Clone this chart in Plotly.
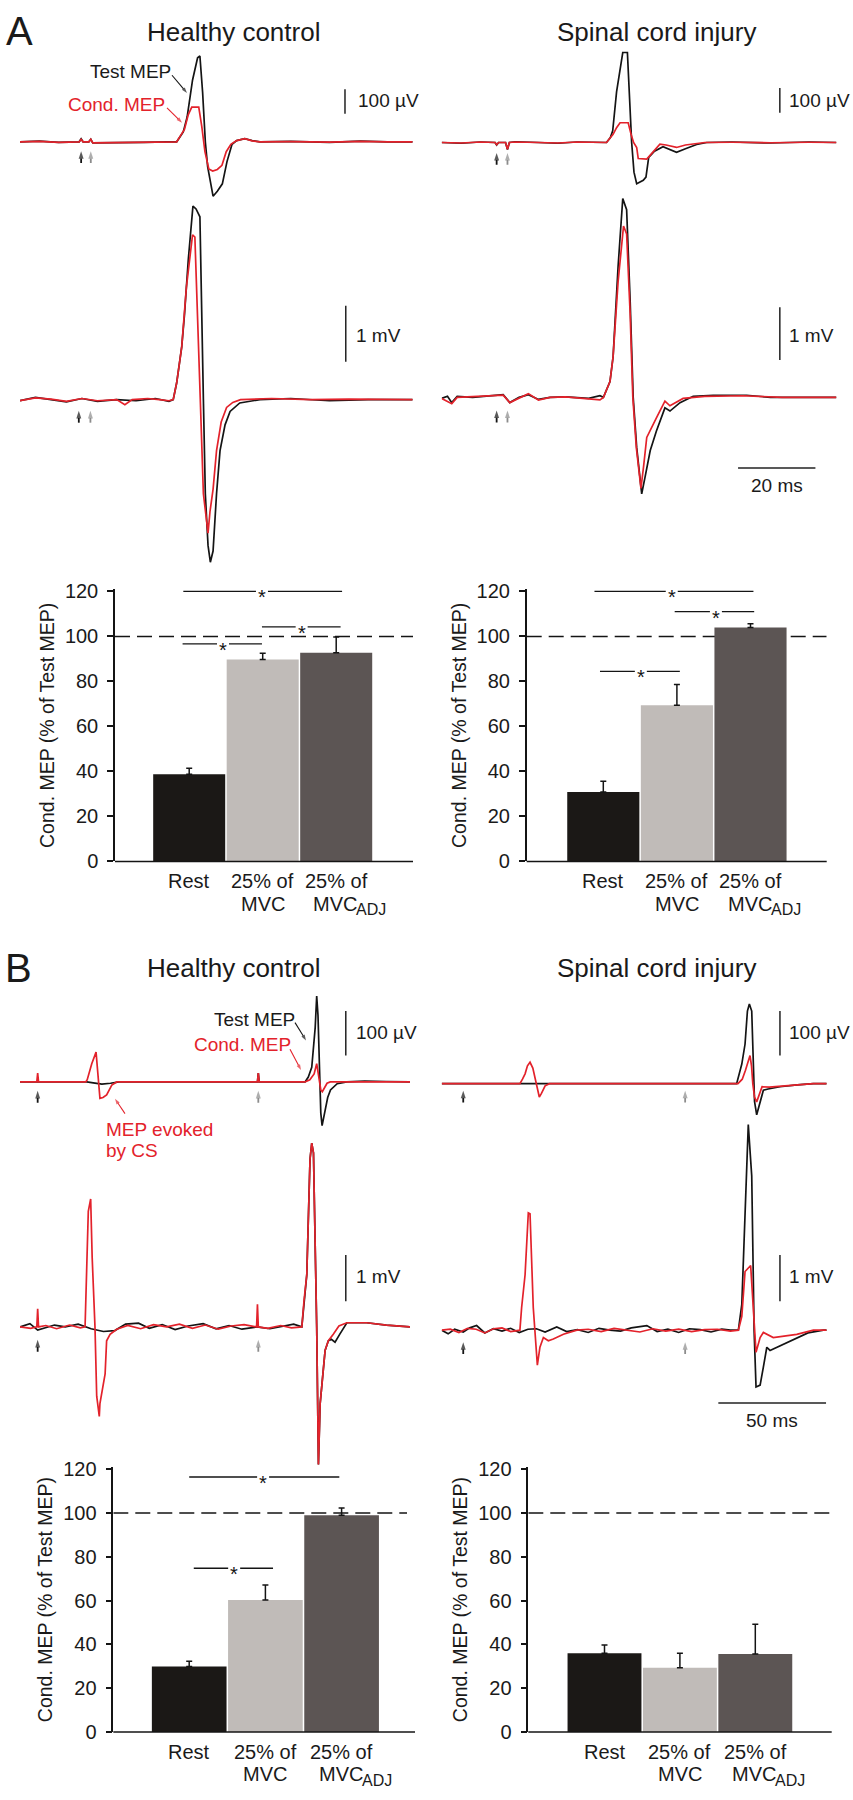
import plotly.graph_objects as go

W, H = 853, 1800
FONT = "Liberation Sans, Arial, sans-serif"
BLACK = "#141414"
RED = "#e3222b"
GRAY = "#8c8c8c"
TXT = "#1a1a1a"

# ------------------------------------------------------------------ data
# Panel A, healthy control, top traces (µV), time in ms
a_hc_top_t_test = [0, 5, 10, 15.3, 15.8, 16.3, 17.8, 18.3, 18.8, 25, 32, 38, 40.5, 42.2, 43.2, 44.6, 45.9, 46.5, 47.2, 47.9, 48.5, 49.9, 51.0, 52.3, 53.5, 54.8, 56.0, 58.1, 60.0, 62.0, 70, 80, 88, 95, 101.5]
a_hc_top_v_test = [0, 3, -2, 0, 12, 0, 0, 10, -4, -4, -2, 0, 0, 40, 100, 250, 340, 347, 200, 0, -100, -220, -200, -170, -80, -10, 5, 13, 5, 0, 2, -2, 3, 0, 0]
a_hc_top_t_cond = [0, 5, 10, 15.3, 15.8, 16.3, 17.8, 18.3, 18.8, 25, 32, 38, 40.5, 41.5, 42.5, 43.5, 44.4, 46.2, 47.0, 47.8, 48.8, 49.8, 51.0, 52.2, 53.3, 54.5, 56.0, 58.1, 60.0, 62.0, 70, 80, 88, 95, 101.5]
a_hc_top_v_cond = [0, 2, -2, 0, 10, 0, 0, 10, -4, -3, -2, 0, 0, 25, 50, 110, 140, 140, 60, -40, -110, -118, -112, -95, -40, -10, 5, 13, 4, 0, 1, -1, 2, 0, 0]

# Panel A, healthy control, bottom traces (mV)
a_hc_bot_t_test = [0, 4, 8, 12, 16, 20, 25, 30, 35, 38.5, 39.6, 40.5, 41.8, 42.5, 43.5, 44.7, 45.5, 46.5, 47.4, 47.9, 48.6, 49.2, 49.9, 50.8, 51.7, 53.0, 54.3, 56.8, 62, 70, 80, 90, 101.5]
a_hc_bot_v_test = [-0.02, 0.04, 0.0, -0.04, 0.02, -0.03, 0.0, -0.02, 0.02, -0.03, 0.0, 0.3, 0.94, 1.5, 2.5, 3.45, 3.4, 3.26, 0.0, -1.68, -2.6, -2.9, -2.7, -1.68, -0.91, -0.45, -0.21, -0.06, 0.0, 0.02, -0.02, 0.0, 0.0]
a_hc_bot_t_cond = [0, 4, 8, 12, 16, 20, 25, 27.1, 29, 33, 36, 38.5, 39.6, 40.5, 41.8, 43.0, 44.6, 45.2, 46.6, 47.4, 48.6, 49.1, 49.9, 50.8, 52.0, 53.4, 55.0, 57, 65, 75, 85, 95, 101.5]
a_hc_bot_v_cond = [-0.02, 0.03, 0.01, -0.03, 0.02, -0.02, 0.0, -0.09, 0.0, 0.02, 0.0, -0.02, 0.0, 0.3, 0.94, 2.0, 2.94, 2.9, 0.0, -1.68, -2.38, -2.0, -1.6, -0.91, -0.4, -0.14, -0.05, 0.0, 0.02, 0.0, 0.01, 0.0, 0.0]

# Panel A, spinal cord injury, top traces (µV)
a_sci_top_t_test = [0, 5, 10, 13.8, 14.2, 14.7, 16.5, 17.0, 17.5, 19, 25, 30, 35, 40, 42.6, 43.6, 44.2, 45.2, 46.8, 48.0, 48.7, 49.1, 49.7, 50.4, 52.1, 52.8, 53.5, 55.0, 57.2, 59.0, 60.7, 63.0, 65.9, 68.5, 75, 85, 95, 102]
a_sci_top_v_test = [0, -3, 2, 0, -10, 0, 0, -28, 0, 3, 0, -3, 2, 0, 0, 20, 47, 205, 364, 364, 100, 0, -120, -167, -153, -140, -60, -35, -17, -28, -40, -25, -8, 0, 2, -2, 2, 0]
a_sci_top_t_cond = [0, 5, 10, 13.8, 14.2, 14.7, 16.5, 17.0, 17.5, 19, 25, 30, 35, 40, 42.6, 44.3, 45.2, 46.1, 48.2, 49.0, 49.6, 50.4, 50.8, 53.0, 54.5, 56.4, 58.0, 60.7, 63.0, 65.9, 68, 75, 85, 95, 102]
a_sci_top_v_cond = [0, -2, 2, 0, -9, 0, 0, -27, 0, 2, 0, -2, 2, 0, 0, 33, 60, 80, 80, 30, 0, -20, -65, -67, -40, -7, -10, -20, -10, -3, 0, 1, -1, 1, 0]

# Panel A, spinal cord injury, bottom traces (mV)
a_sci_bot_t_test = [0, 1.5, 2.6, 4.0, 8, 12, 15.9, 17.6, 20, 22.4, 25, 28, 32, 38, 40.9, 41.8, 43.5, 44.3, 45.6, 46.8, 47.8, 48.7, 49.5, 50.4, 51.7, 52.6, 53.9, 55.5, 57.7, 59.0, 61.6, 65, 70.2, 78.8, 85, 95, 102]
a_sci_bot_v_test = [-0.02, 0.02, -0.1, 0.02, 0.0, 0.02, 0.05, -0.1, 0.0, 0.05, -0.04, 0.0, 0.01, -0.02, 0.03, 0.0, 0.3, 0.77, 2.49, 3.77, 3.56, 1.86, 0.0, -0.95, -1.83, -1.5, -1.01, -0.64, -0.2, -0.26, -0.1, 0.02, 0.04, 0.04, 0.0, 0.0, 0.0]
a_sci_bot_t_cond = [0, 1.5, 2.6, 4.0, 8, 12, 15.9, 17.6, 20, 22.4, 25, 28, 32, 38, 40.9, 41.8, 43.5, 44.3, 45.6, 47.0, 47.8, 48.7, 49.4, 50.3, 51.5, 52.2, 53.0, 55.5, 57.7, 59.0, 62.4, 68, 78, 88, 95, 102]
a_sci_bot_v_cond = [-0.02, -0.08, -0.12, 0.0, 0.01, 0.02, 0.04, -0.1, -0.02, 0.07, -0.05, 0.0, 0.01, -0.03, -0.05, 0.0, 0.3, 0.77, 2.2, 3.25, 3.1, 1.6, 0.0, -0.95, -1.73, -1.3, -0.76, -0.39, -0.07, -0.16, -0.02, 0.02, 0.03, 0.0, 0.0, 0.0]

# Panel B, healthy control, top traces (µV)
b_hc_top_t_test = [0, 20, 31, 34, 38, 42, 46, 60, 80, 100, 110.2, 110.6, 111.0, 120, 132.3, 133.8, 135.4, 137.0, 137.7, 138.3, 139.0, 139.6, 140.2, 141.6, 142.8, 144.1, 147.2, 151.7, 160, 170, 181]
b_hc_top_v_test = [0, 0, 0, -2, -5, -3, 0, 0, 0, 0, 0, 20, 0, 0, 0, 11, 33, 122, 193, 150, 0, -70, -98, -63, -35, -18, -4, 0, 2, 1, 0]
b_hc_top_t_cond = [0, 7.8, 8.2, 8.6, 20, 30.5, 31.2, 33.3, 35.3, 36.4, 37.1, 38.5, 40.2, 42.6, 44.9, 60, 80, 100, 110.2, 110.6, 111.0, 120, 132.3, 134.5, 136.5, 137.7, 138.3, 139.0, 139.6, 140.3, 141.3, 142.5, 144.0, 150, 160, 170, 181]
b_hc_top_v_cond = [0, 0, 20, 0, 0, 0, 5, 41, 67, 0, -37, -35, -29, -7, 0, 0, 0, 0, 0, 20, 0, 0, 0, 5, 18, 41, 25, 0, -18, -22, -12, -3, 0, 0, 0, 0, 0]

# Panel B, healthy control, bottom traces (mV)
b_hc_bot_t_test = [0, 4.6, 8.2, 12, 16, 21, 27, 33, 38.7, 44, 49, 55, 60, 66, 72, 78, 85, 91, 97, 103, 110, 116, 122, 127, 130.8, 131.8, 133.1, 134.6, 135.4, 136.2, 137.7, 138.5, 139.3, 141.6, 143.1, 144.5, 146.2, 148.5, 151.7, 160.9, 170, 181]
b_hc_bot_v_test = [0.0, 0.07, -0.07, -0.01, 0.04, 0.0, 0.06, -0.04, -0.1, -0.08, 0.06, 0.08, -0.03, 0.05, -0.06, 0.02, 0.07, -0.04, 0.03, -0.05, 0.0, -0.04, 0.02, 0.06, 0.0, 0.56, 1.13, 3.63, 3.98, 3.77, 0.0, -2.98, -1.66, -0.51, -0.3, -0.27, -0.33, -0.15, 0.09, 0.09, 0.04, 0.0]
b_hc_bot_t_cond = [0, 5, 7.8, 8.2, 8.6, 12, 17, 23, 28, 30.2, 31.7, 32.8, 33.5, 34.8, 35.6, 36.8, 37.1, 38.3, 39.5, 40.2, 41.8, 44.9, 50, 56, 62, 68, 74, 80, 86, 92, 98, 104, 109.8, 110.2, 110.6, 115, 121, 126, 130.8, 131.8, 133.1, 134.6, 135.4, 136.2, 137.7, 138.5, 139.3, 141.6, 143.1, 145.4, 148, 151.7, 160.9, 170, 181]
b_hc_bot_v_cond = [0.0, -0.03, 0.0, 0.39, 0.0, 0.03, -0.04, 0.04, -0.02, 0.0, 2.5, 2.77, 1.5, 0.0, -1.5, -1.94, -1.66, -1.3, -1.02, -0.3, -0.16, -0.05, 0.03, -0.04, 0.05, 0.0, 0.06, -0.03, 0.04, -0.05, 0.02, 0.05, 0.0, 0.49, 0.0, -0.03, 0.03, -0.02, 0.0, 0.56, 1.13, 3.63, 3.98, 3.77, 0.0, -2.98, -1.66, -0.51, -0.3, -0.16, 0.02, 0.09, 0.09, 0.04, 0.0]

# Panel B, spinal cord injury, top traces (µV)
b_sci_top_t_test = [0, 20, 40, 60, 80, 100, 120, 136.9, 139.3, 140.8, 141.9, 142.8, 143.9, 144.7, 145.2, 146.2, 147.3, 149.3, 151.5, 157, 165, 172.5, 178.7]
b_sci_top_v_test = [0, 0, 0, 0, 0, 0, 0, 0, 44, 89, 163, 179, 163, 15, -40, -70, -50, -15, -12, -7, -3, 0, 0]
b_sci_top_t_cond = [0, 20, 36.3, 37.5, 38.7, 39.8, 41.0, 42.3, 43.5, 44.1, 45.3, 46.3, 48.0, 50, 80, 110, 137.5, 139.5, 141.0, 143.1, 143.8, 144.4, 145.2, 146.2, 147.5, 148.7, 152, 157, 165, 172.5, 178.7]
b_sci_top_v_cond = [0, 0, 0, 10, 22, 40, 48, 35, 10, 0, -30, -22, -5, 0, 0, 0, 0, 10, 30, 63, 40, 0, -30, -41, -25, -7, -8, -6, -2, 0, 0]

# Panel B, spinal cord injury, bottom traces (mV)
b_sci_bot_t_test = [0, 3, 6, 10, 13, 16.2, 20, 24, 28, 32, 36, 40, 44, 48, 53.4, 58, 63, 68, 73, 78, 83, 88, 95.2, 100, 105, 110, 115, 120, 125, 130, 134, 137.7, 139.3, 140.8, 142.3, 143.9, 145.0, 145.9, 147.8, 149.3, 150.9, 152.4, 157, 164.8, 170, 177.2, 178.7]
b_sci_bot_v_test = [0.0, -0.08, 0.02, -0.04, 0.05, 0.1, -0.06, 0.03, -0.02, 0.04, -0.05, 0.02, 0.03, -0.04, 0.07, -0.03, 0.01, -0.05, 0.04, 0.0, -0.02, 0.05, 0.1, -0.03, 0.02, -0.05, 0.03, 0.01, -0.04, 0.02, 0.0, 0.0, 0.56, 2.63, 4.45, 3.34, 0.0, -1.23, -1.19, -0.8, -0.37, -0.44, -0.34, -0.16, -0.06, 0.0, 0.0]
b_sci_bot_t_cond = [0, 4, 8, 12, 16, 20, 24, 28, 32, 36.3, 37.1, 38.7, 40.2, 41.0, 42.5, 43.3, 44.4, 45.6, 47.2, 49.5, 51.8, 56.5, 62.7, 68, 74, 80, 86, 92, 98, 104, 110, 116, 122, 128, 134, 137.7, 139.3, 140.8, 143.4, 144.6, 145.0, 145.9, 147.8, 149.3, 153.9, 164.8, 172.5, 178.7]
b_sci_bot_v_cond = [0.0, 0.02, -0.05, 0.04, 0.02, -0.06, 0.03, 0.05, -0.03, 0.0, 0.49, 1.2, 2.54, 2.52, 0.49, 0.0, -0.76, -0.37, -0.16, -0.23, -0.19, -0.09, 0.0, 0.02, -0.03, 0.04, 0.0, -0.04, 0.03, -0.02, 0.02, -0.03, 0.01, 0.02, -0.02, 0.0, 0.3, 1.27, 1.4, 0.49, 0.0, -0.48, -0.16, -0.05, -0.16, -0.09, 0.0, 0.0]

# Stimulus arrows (ms): conditioning (black) and test (gray)
a_hc_arrow_t = [15.8, 18.3]
a_sci_arrow_t = [14.2, 17.0]
b_hc_arrow_t = [8.2, 110.6]
b_sci_arrow_t = [10.0, 113.0]

# Bar charts: Cond. MEP (% of Test MEP), mean and SEM
bar_cat_line1 = ["Rest", "25% of", "25% of"]
bar_cat_line2 = ["", "MVC", "MVC"]
bar_cat_sub = ["", "", "ADJ"]
bar_colors = ["#1b1816", "#c0bbb8", "#5c5554"]
y_ticks = [0, 20, 40, 60, 80, 100, 120]
reference_level = 100

a_hc_mean = [38.7, 89.8, 92.8]
a_hc_sem = [2.7, 2.7, 7.0]
a_sci_mean = [30.9, 69.4, 104.0]
a_sci_sem = [4.7, 9.2, 1.6]
b_hc_mean = [29.9, 60.3, 99.0]
b_hc_sem = [2.4, 6.8, 3.3]
b_sci_mean = [35.9, 29.3, 35.6]
b_sci_sem = [3.8, 6.6, 13.6]

# significance brackets: start, end, height, star position (category units)
a_hc_sig_x0 = [-0.08, 0.99, -0.09]
a_hc_sig_x1 = [2.08, 2.06, 0.99]
a_hc_sig_y = [120, 104.3, 96.7]
a_hc_sig_star = [0.99, 1.53, 0.46]
a_sci_sig_x0 = [-0.12, 0.97, -0.045]
a_sci_sig_x1 = [2.04, 2.05, 1.04]
a_sci_sig_y = [120, 111, 84.5]
a_sci_sig_star = [0.93, 1.53, 0.51]
b_hc_sig_x0 = [0.0, 0.06]
b_hc_sig_x1 = [1.97, 1.1]
b_hc_sig_y = [116.5, 74.8]
b_hc_sig_star = [0.97, 0.59]

# ------------------------------------------------------------------ figure
fig = go.Figure()
annotations = []
shapes = []
panel_scale = {}


def ax_names(n):
    return ("xaxis" if n == 1 else f"xaxis{n}", "yaxis" if n == 1 else f"yaxis{n}",
            "x" if n == 1 else f"x{n}", "y" if n == 1 else f"y{n}")


def trace_panel(n, xl, xr, tmax, ytop, ybot, base, scale):
    xa, ya, xr_, yr_ = ax_names(n)
    panel_scale[n] = scale
    fig.update_layout(**{
        xa: dict(domain=[xl / W, xr / W], range=[0, tmax], visible=False, anchor=yr_, fixedrange=True),
        ya: dict(domain=[1 - ybot / H, 1 - ytop / H],
                 range=[(base - ybot) / scale, (base - ytop) / scale],
                 visible=False, anchor=xr_, fixedrange=True),
    })


def add_traces(n, t_test, v_test, t_cond, v_cond):
    _, _, xr_, yr_ = ax_names(n)
    fig.add_trace(go.Scatter(x=t_test, y=v_test, mode="lines", xaxis=xr_, yaxis=yr_,
                             line=dict(color=BLACK, width=1.7), hoverinfo="skip"))
    fig.add_trace(go.Scatter(x=t_cond, y=v_cond, mode="lines", xaxis=xr_, yaxis=yr_,
                             line=dict(color=RED, width=1.7), hoverinfo="skip"))


def arrow_trace(xs, ys, color, xref, yref, width=1.5, size=7):
    fig.add_trace(go.Scatter(x=xs, y=ys, mode="lines+markers", xaxis=xref, yaxis=yref,
                             line=dict(color=color, width=width), cliponaxis=False,
                             marker=dict(symbol="arrow", size=[0, size], angleref="previous",
                                         color=color, line=dict(width=0)),
                             hoverinfo="skip"))


def stim_arrows(n, times, head_y):
    _, _, xr_, yr_ = ax_names(n)
    tail_y = head_y - 12 / panel_scale[n]
    for t, c in zip(times, [BLACK, GRAY]):
        arrow_trace([t, t], [tail_y, head_y], c, xr_, yr_, width=1.8, size=8)


def vbar(n, t, y0, y1):
    _, _, xr_, yr_ = ax_names(n)
    shapes.append(dict(type="line", xref=xr_, yref=yr_, x0=t, x1=t, y0=y0, y1=y1,
                       line=dict(color="#222222", width=1.5)))


def hbar(n, t0, t1, y):
    _, _, xr_, yr_ = ax_names(n)
    shapes.append(dict(type="line", xref=xr_, yref=yr_, x0=t0, x1=t1, y0=y, y1=y,
                       line=dict(color="#222222", width=1.5)))


def paper_text(xp, yp, text, size, xanchor="center", color=TXT):
    annotations.append(dict(x=xp / W, y=1 - yp / H, xref="paper", yref="paper", text=text,
                            showarrow=False, xanchor=xanchor, yanchor="middle",
                            font=dict(size=size, color=color, family=FONT)))


# overlay axis in pixel units for pointer arrows
fig.update_layout(xaxis13=dict(domain=[0, 1], range=[0, W], visible=False, anchor="y13", fixedrange=True),
                  yaxis13=dict(domain=[0, 1], range=[H, 0], visible=False, anchor="x13", fixedrange=True))


def pointer(x_tail, y_tail, x_head, y_head, color):
    arrow_trace([x_tail, x_head], [y_tail, y_head], color, "x13", "y13", width=1.1, size=6)


# ---- Panel A traces
trace_panel(1, 20, 412.7, 101.5, 35, 200, 134.3, 0.25)
add_traces(1, a_hc_top_t_test, a_hc_top_v_test, a_hc_top_t_cond, a_hc_top_v_cond)
stim_arrows(1, a_hc_arrow_t, -38)
vbar(1, 84.0, 113, 213)

trace_panel(2, 20, 412.7, 101.5, 185, 575, 395, 56.7)
add_traces(2, a_hc_bot_t_test, a_hc_bot_v_test, a_hc_bot_t_cond, a_hc_bot_v_cond)
stim_arrows(2, [15.2, 18.2], -0.2)
vbar(2, 84.2, 0.675, 1.675)

trace_panel(3, 441.7, 836.7, 102.1, 30, 200, 135, 0.25)
add_traces(3, a_sci_top_t_test, a_sci_top_v_test, a_sci_top_t_cond, a_sci_top_v_cond)
stim_arrows(3, a_sci_arrow_t, -42)
vbar(3, 87.4, 120, 220)

trace_panel(4, 441.7, 836.7, 102.1, 180, 500, 392.7, 53.3)
add_traces(4, a_sci_bot_t_test, a_sci_bot_v_test, a_sci_bot_t_cond, a_sci_bot_v_cond)
stim_arrows(4, a_sci_arrow_t, -0.25)
vbar(4, 87.4, 0.71, 1.71)
hbar(4, 76.6, 96.6, -1.34)

# ---- Panel B traces
trace_panel(5, 20, 410, 181, 985, 1140, 1085, 0.45)
add_traces(5, b_hc_top_t_test, b_hc_top_v_test, b_hc_top_t_cond, b_hc_top_v_cond)
stim_arrows(5, b_hc_arrow_t, -20)
vbar(5, 151.2, 59.3, 159.3)

trace_panel(6, 20, 410, 181, 1135, 1480, 1332.7, 46.7)
add_traces(6, b_hc_bot_t_test, b_hc_bot_v_test, b_hc_bot_t_cond, b_hc_bot_v_cond)
stim_arrows(6, b_hc_arrow_t, -0.28)
vbar(6, 151.2, 0.557, 1.557)

trace_panel(7, 441.7, 826.7, 178.7, 990, 1130, 1086.7, 0.45)
add_traces(7, b_sci_top_t_test, b_sci_top_v_test, b_sci_top_t_cond, b_sci_top_v_cond)
stim_arrows(7, b_sci_arrow_t, -16)
vbar(7, 157.0, 63, 163)

trace_panel(8, 441.7, 826.7, 178.7, 1115, 1440, 1336, 46.7)
add_traces(8, b_sci_bot_t_test, b_sci_bot_v_test, b_sci_bot_t_cond, b_sci_bot_v_cond)
stim_arrows(8, b_sci_arrow_t, -0.26)
vbar(8, 157.0, 0.627, 1.627)
hbar(8, 128.4, 178.4, -1.58)

# trace labels (pixel positions)
paper_text(356, 93, "100 µV", 19, "left")
paper_text(354, 330, "1 mV", 19, "left")
paper_text(787, 93, "100 µV", 19, "left")
paper_text(787, 330, "1 mV", 19, "left")
paper_text(777, 482, "20 ms", 19)
paper_text(130, 63, "Test MEP", 19)
paper_text(117, 97, "Cond. MEP", 19, color=RED)
pointer(172, 67, 187, 85, BLACK)
pointer(167, 100, 182, 115, RED)

paper_text(354, 1035, "100 µV", 19, "left")
paper_text(354, 1282, "1 mV", 19, "left")
paper_text(787, 1035, "100 µV", 19, "left")
paper_text(787, 1282, "1 mV", 19, "left")
paper_text(772, 1427, "50 ms", 19)
paper_text(254, 1022, "Test MEP", 19)
paper_text(242, 1047, "Cond. MEP", 19, color=RED)
paper_text(104, 1133, "MEP evoked", 19, "left", color=RED)
paper_text(104, 1154, "by CS", 19, "left", color=RED)
pointer(295, 1025, 306, 1043, BLACK)
pointer(290, 1052, 301, 1073, RED)
pointer(125, 1117, 115, 1102, RED)


# ---- bar charts
def bar_panel(n, yaxis_px, xend_px, dash_end_px, c0_px, unit_px, zero_px, ppu,
              mean, sem, sig=None):
    xa, ya, xr_, yr_ = ax_names(n)
    top = 121
    r0 = (yaxis_px - c0_px) / unit_px
    r1 = (xend_px - c0_px) / unit_px
    fig.update_layout(**{
        xa: dict(domain=[yaxis_px / W, xend_px / W], range=[r0, r1], anchor=yr_,
                 visible=False, fixedrange=True),
        ya: dict(domain=[1 - zero_px / H, 1 - (zero_px - top * ppu) / H], range=[0, top], anchor=xr_,
                 showline=True, linecolor=BLACK, linewidth=1.5, ticks="outside", ticklen=6, tickwidth=1.5,
                 tickcolor=BLACK, tickvals=y_ticks, showgrid=False, zeroline=False, ticklabelstandoff=5,
                 tickfont=dict(size=20, color=TXT, family=FONT), fixedrange=True,
                 title=dict(text="Cond. MEP (% of Test MEP)", standoff=5,
                            font=dict(size=19.5, color=TXT, family=FONT))),
    })
    # x baseline (axis line)
    shapes.append(dict(type="line", xref="paper", yref="paper", x0=yaxis_px / W, x1=xend_px / W,
                       y0=1 - zero_px / H, y1=1 - zero_px / H, line=dict(color=BLACK, width=1.5)))
    fig.add_trace(go.Bar(x=[0, 1, 2], y=mean, width=0.98, marker=dict(color=bar_colors, line=dict(width=0)),
                         error_y=dict(type="data", array=sem, arrayminus=[0, 0, 0], symmetric=False,
                                      color=BLACK, thickness=1.5, width=3),
                         xaxis=xr_, yaxis=yr_, hoverinfo="skip"))
    shapes.append(dict(type="line", xref=xr_, yref=yr_, x0=r0, x1=(dash_end_px - c0_px) / unit_px,
                       y0=reference_level, y1=reference_level, layer="below",
                       line=dict(color=BLACK, width=1.5, dash="15px,7px")))
    if sig:
        gap = 6.0 / unit_px
        for x0, x1, y, s in zip(*sig):
            shapes.append(dict(type="line", xref=xr_, yref=yr_, x0=x0, x1=s - gap, y0=y, y1=y,
                               line=dict(color=BLACK, width=1.3)))
            shapes.append(dict(type="line", xref=xr_, yref=yr_, x0=s + gap, x1=x1, y0=y, y1=y,
                               line=dict(color=BLACK, width=1.3)))
            annotations.append(dict(x=s, y=y, xref=xr_, yref=yr_, text="*", showarrow=False,
                                    xanchor="center", yanchor="middle", yshift=-6,
                                    font=dict(size=20, color=BLACK, family=FONT)))
    for i, (l1, l2, sub) in enumerate(zip(bar_cat_line1, bar_cat_line2, bar_cat_sub)):
        annotations.append(dict(x=i, y=1 - (zero_px + 20) / H, xref=xr_, yref="paper", text=l1,
                                showarrow=False, xanchor="center", yanchor="middle",
                                font=dict(size=20, color=TXT, family=FONT)))
        if l2 and not sub:
            annotations.append(dict(x=i, y=1 - (zero_px + 43) / H, xref=xr_, yref="paper", text=l2,
                                    showarrow=False, xanchor="center", yanchor="middle",
                                    font=dict(size=20, color=TXT, family=FONT)))
        elif l2:
            annotations.append(dict(x=i, y=1 - (zero_px + 43) / H, xref=xr_, yref="paper", text=l2,
                                    showarrow=False, xanchor="left", yanchor="middle", xshift=-25,
                                    font=dict(size=20, color=TXT, family=FONT)))
            annotations.append(dict(x=i, y=1 - (zero_px + 49) / H, xref=xr_, yref="paper", text=sub,
                                    showarrow=False, xanchor="left", yanchor="middle", xshift=18,
                                    font=dict(size=16, color=TXT, family=FONT)))


bar_panel(9, 115, 413, 413, 189.2, 73.5, 862, 2.275, a_hc_mean, a_hc_sem,
          (a_hc_sig_x0, a_hc_sig_x1, a_hc_sig_y, a_hc_sig_star))
bar_panel(10, 526.7, 826.7, 826.7, 603.3, 73.6, 862, 2.275, a_sci_mean, a_sci_sem,
          (a_sci_sig_x0, a_sci_sig_x1, a_sci_sig_y, a_sci_sig_star))
bar_panel(11, 113.3, 415, 407, 189.2, 76.2, 1742.3, 2.213, b_hc_mean, b_hc_sem,
          (b_hc_sig_x0, b_hc_sig_x1, b_hc_sig_y, b_hc_sig_star))
bar_panel(12, 528.3, 831.7, 831.7, 604.5, 75.4, 1742.3, 2.213, b_sci_mean, b_sci_sem, None)

# ---- titles and panel letters
paper_text(19, 22, "A", 40)
paper_text(234, 23, "Healthy control", 26)
paper_text(656, 23, "Spinal cord injury", 26)
paper_text(18, 970, "B", 40)
paper_text(234, 970, "Healthy control", 26)
paper_text(656, 970, "Spinal cord injury", 26)

fig.update_layout(width=W, height=H, margin=dict(l=0, r=0, t=0, b=0),
                  paper_bgcolor="white", plot_bgcolor="rgba(0,0,0,0)",
                  showlegend=False, barmode="overlay",
                  font=dict(family=FONT, color=TXT),
                  annotations=annotations, shapes=shapes)

fig.write_html("out.html", config={"displayModeBar": False},
               post_script="document.body.style.margin='0';document.body.style.padding='0';")
